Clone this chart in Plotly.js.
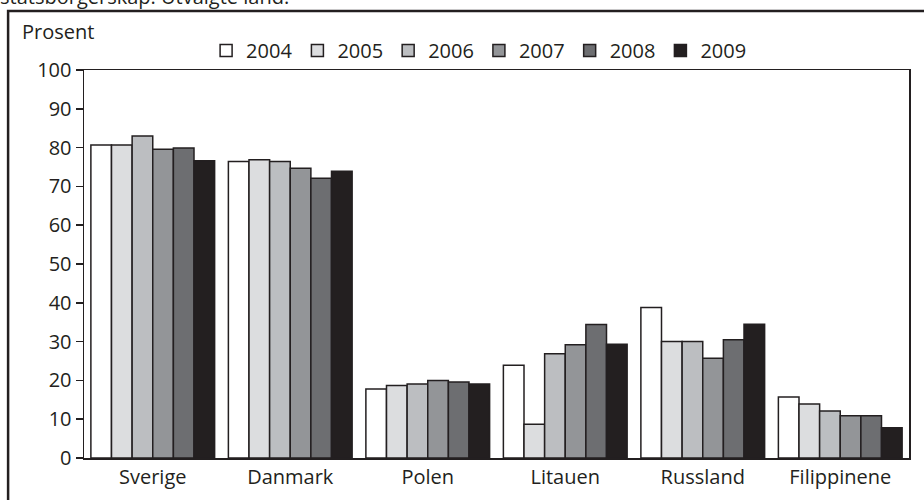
<!DOCTYPE html>
<html>
<head>
<meta charset="utf-8">
<script src="https://cdn.plot.ly/plotly-3.0.1.min.js"></script>
<style>
  html, body { margin: 0; padding: 0; background: #fff; }
  #plot { width: 924px; height: 500px; }
</style>
</head>
<body>
<div id="plot"></div>
<script>
// countries on the x axis
const countries = ['Sverige', 'Danmark', 'Polen', 'Litauen', 'Russland', 'Filippinene'];
const years = ['2004', '2005', '2006', '2007', '2008', '2009'];

// percent per year, in country order
const v2004 = [80.7, 76.4, 17.8, 23.9, 38.8, 15.7];
const v2005 = [80.7, 76.9, 18.7, 8.7, 30.0, 13.9];
const v2006 = [83.0, 76.4, 19.1, 26.9, 30.0, 12.1];
const v2007 = [79.6, 74.7, 20.0, 29.2, 25.7, 10.9];
const v2008 = [79.9, 72.1, 19.6, 34.4, 30.5, 10.9];
const v2009 = [76.6, 73.9, 19.1, 29.3, 34.5, 7.8];

const yTicks = [0, 10, 20, 30, 40, 50, 60, 70, 80, 90, 100];

const fills = ['#ffffff', '#dcdddf', '#bcbec1', '#939598', '#6d6e71', '#231f20'];
const series = [v2004, v2005, v2006, v2007, v2008, v2009];

const FONT = 'Open Sans, Noto Sans, sans-serif';
const FS = 20;
const ink = '#231f20';

const traces = series.map((vals, i) => ({
  type: 'bar',
  name: years[i],
  x: countries,
  y: vals,
  marker: { color: fills[i], line: { color: ink, width: 1.5 } },
  hoverinfo: 'skip'
}));

const layout = {
  width: 924,
  height: 500,
  margin: { l: 84, r: 15, t: 70, b: 42, autoexpand: false },
  paper_bgcolor: '#ffffff',
  plot_bgcolor: '#ffffff',
  font: { family: FONT, size: FS, color: ink },
  barmode: 'group',
  bargap: 0.1,
  bargroupgap: 0,
  showlegend: true,
  legend: {
    orientation: 'h',
    x: 0.148, xanchor: 'left',
    y: 1.05, yanchor: 'middle',
    bgcolor: 'rgba(0,0,0,0)',
    font: { family: FONT, size: FS, color: ink },
    traceorder: 'normal',
    itemclick: false,
    itemdoubleclick: false
  },
  xaxis: {
    showline: true, linecolor: ink, linewidth: 1.5, mirror: true,
    ticks: '', showgrid: false, zeroline: false,
    tickfont: { family: FONT, size: FS, color: ink },
    fixedrange: true
  },
  yaxis: {
    range: [0, 100],
    tickvals: yTicks,
    showline: true, linecolor: ink, linewidth: 1.5, mirror: true,
    ticks: 'outside', ticklen: 7, tickcolor: ink, tickwidth: 1.5,
    showgrid: false, zeroline: false,
    tickfont: { family: FONT, size: FS, color: ink },
    fixedrange: true
  },
  annotations: [
    {
      text: 'Prosent', xref: 'paper', yref: 'paper',
      x: -0.077, y: 1.098, xanchor: 'left', yanchor: 'middle',
      showarrow: false, font: { family: FONT, size: FS, color: ink }
    },
    {
      text: 'statsborgerskap. Utvalgte land.', xref: 'paper', yref: 'paper',
      x: -0.104, y: 1.19, xanchor: 'left', yanchor: 'middle',
      showarrow: false, font: { family: FONT, size: FS, color: ink }
    }
  ],
  shapes: [
    {
      type: 'rect', xref: 'paper', yref: 'paper',
      x0: -0.092, x1: 1.05, y0: -0.12, y1: 1.152,
      line: { color: ink, width: 2.5 }, fillcolor: 'rgba(0,0,0,0)'
    }
  ]
};

Plotly.newPlot('plot', traces, layout, { displayModeBar: false, staticPlot: true });
</script>
</body>
</html>
